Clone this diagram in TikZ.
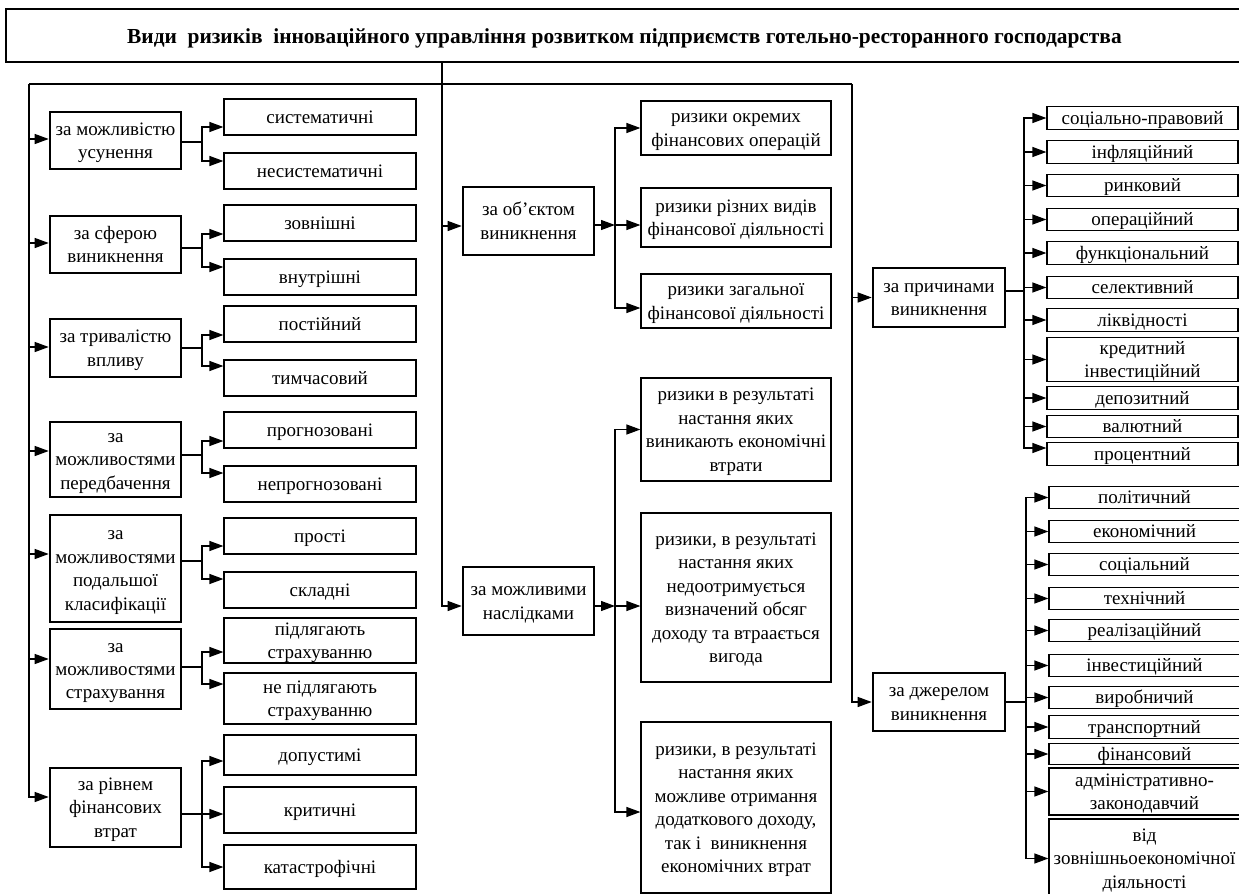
\documentclass[tikz,border=0pt]{standalone}
\usepackage{fontspec}
\setmainfont{Liberation Serif}
\usetikzlibrary{arrows.meta}
% strut with the ascent and descent of the font
\newcommand{\wstrut}{\rule[-0.216em]{0pt}{1.107em}}
\tikzset{
  cat/.style={draw, line width=1.3pt, align=center, inner sep=0pt, font=\fontsize{9.5}{11.7}\selectfont,
    execute at begin node=\wstrut, execute at end node=\wstrut},
  item/.style={draw, line width=0.6pt, align=center, inner sep=0pt, font=\fontsize{9.5}{11.7}\selectfont,
    execute at begin node=\wstrut, execute at end node=\wstrut},
  pbox/.style={cat, minimum width=65.5pt},
  lbox/.style={item, minimum width=96pt, minimum height=18pt},
  mbox/.style={item, minimum width=95pt},
  rbox/.style={item, minimum width=95.5pt, minimum height=11.25pt},
  ln/.style={line width=0.6pt},
  arr/.style={line width=0.6pt, -{Triangle[length=7pt,width=5pt]}},
}
\begin{document}
\begin{tikzpicture}[x=0.5pt, y=-0.5pt]
\useasboundingbox (0,0) rectangle (1239,894);

% title
\node[draw, line width=1.4pt, minimum width=627pt, minimum height=26.5pt, inner sep=0pt] (title) at (633,35.5) {};
\node[font=\bfseries\fontsize{10.7}{12.8}\selectfont] (ttl) at (624.5,36)
  {\wstrut Види~ ризиків~ інноваційного управління розвитком підприємств готельно-ресторанного господарства};

\coordinate (hub) at (442,84);
\coordinate (lt) at (29,84);
\coordinate (rt) at (852,84);
\coordinate (lj) at (202,0);
\coordinate (mj) at (615,0);
\coordinate (rj1) at (1024,0);
\coordinate (rj2) at (1026,0);

% left column
\node[pbox, minimum height=28.5pt] (p1) at (115.5,140.5) {\wstrut за можливістю\\усунення};
\node[pbox, minimum height=28.5pt] (p2) at (115.5,244.5) {\wstrut за сферою\\виникнення};
\node[pbox, minimum height=29pt] (p3) at (115.5,348) {\wstrut за тривалістю\\впливу};
\node[pbox, minimum height=37.5pt] (p4) at (115.5,459.5) {\wstrut за\\можливостями\\передбачення};
\node[pbox, minimum height=53.5pt] (p5) at (115.5,568.5) {\wstrut за\\можливостями\\подальшої\\класифікації};
\node[pbox, minimum height=40pt] (p6) at (115.5,669) {\wstrut за\\можливостями\\страхування};
\node[pbox, minimum height=39.5pt] (p7) at (115.5,807.5) {\wstrut за рівнем\\фінансових\\втрат};

\foreach \n/\y/\t in {c1/117/систематичні, c2/171/несистематичні, c3/223/зовнішні,
    c4/277/внутрішні, c5/324/постійний, c6/378/тимчасовий, c7/430/прогнозовані,
    c8/484/непрогнозовані, c9/536/прості, c10/590/складні}
  \node[lbox] (\n) at (320,\y) {\t};
\node[lbox, minimum height=22.5pt] (c11) at (320,640.5) {\wstrut підлягають\\страхуванню};
\node[lbox, minimum height=25.5pt] (c12) at (320,698.5) {\wstrut не підлягають\\страхуванню};
\node[lbox, minimum height=20pt] (c13) at (320,755) {допустимі};
\node[lbox, minimum height=23pt] (c14) at (320,810) {критичні};
\node[lbox, minimum height=22pt] (c15) at (320,867) {катастрофічні};

% middle column
\node[pbox, minimum height=34pt] (q1) at (528.5,221) {\wstrut за об’єктом\\виникнення};
\node[pbox, minimum height=34pt] (q2) at (528.5,601) {\wstrut за можливими\\наслідками};

\node[mbox, minimum height=27pt] (m1) at (736,128) {\wstrut ризики окремих\\фінансових операцій};
\node[mbox, minimum height=29.5pt] (m2) at (736,217.5) {\wstrut ризики різних видів\\фінансової діяльності};
\node[mbox, minimum height=27pt] (m3) at (736,301) {\wstrut ризики загальної\\фінансової діяльності};
\node[mbox, minimum height=51.5pt] (m4) at (736,429.5) {\wstrut ризики в результаті\\настання яких\\виникають економічні\\втрати};
\node[mbox, minimum height=84.5pt] (m5) at (736,597.5) {\wstrut ризики, в результаті\\настання яких\\недоотримується\\визначений обсяг\\доходу та втраається\\вигода};
\node[mbox, minimum height=85.5pt] (m6) at (736,807.5) {\wstrut ризики, в результаті\\настання яких\\можливе отримання\\додаткового доходу,\\так і~ виникнення\\економічних втрат};

% right column
\node[pbox, minimum width=66pt, minimum height=29.5pt] (r1) at (939,297.5) {\wstrut за причинами\\виникнення};
\node[pbox, minimum width=66pt, minimum height=29pt] (r2) at (939,702) {\wstrut за джерелом\\виникнення};

\foreach \n/\y/\t in {s1/118/соціально-правовий, s2/152/інфляційний, s3/185.5/ринковий,
    s4/219.5/операційний, s5/253/функціональний, s6/287.5/селективний, s7/320/ліквідності,
    s9/398/депозитний, s10/426.5/валютний, s11/454/процентний}
  \node[rbox] (\n) at (1142.5,\y) {\t};
\node[rbox, minimum height=21.5pt] (s8) at (1142.5,359.5) {\wstrut кредитний\\інвестиційний};

\foreach \n/\y/\t in {t1/497.5/політичний, t2/531.5/економічний, t3/564.5/соціальний,
    t4/598.5/технічний, t5/630.5/реалізаційний, t6/665.5/інвестиційний, t7/697.5/виробничий,
    t8/727/транспортний}
  \node[rbox] (\n) at (1144.5,\y) {\t};
\node[rbox, minimum height=10pt] (t9) at (1144.5,754) {фінансовий};
\node[rbox, minimum height=23.5pt] (t10) at (1144.5,791.5) {\wstrut адміністративно-\\законодавчий};
\node[rbox, minimum height=39.5pt] (t11) at (1144.5,858.5) {\wstrut від\\зовнішньоекономічної\\діяльності};

% trunk
\draw[ln] (title.south -| hub) -- (hub);
\draw[ln] (lt) -- (rt);
\foreach \n/\s in {p1/0.75,p2/0.75,p3/0.5,p4/4.25,p5/7.25,p6/5}{
  \path ([yshift=\s pt]\n.west) coordinate (t);
  \draw[arr] (t -| lt) -- (t);
}
\draw[arr] (lt) |- ([yshift=5.25pt]p7.west);

% left branches
\foreach \p/\a/\c/\cs/\d/\ds in {p1/-0.75/c1/-5/c2/5, p2/-1.75/c3/-5.5/c4/5,
    p3/0/c5/-5.5/c6/6, p4/2.25/c7/-5.5/c8/5.5, p5/3.75/c9/-5/c10/5.5, p6/1/c11/-5.75/c12/7.25}{
  \path ([yshift=\a pt]\p.east) coordinate (b);
  \draw[arr] (b) -- (b -| lj) |- ([yshift=\cs pt]\c.west);
  \draw[arr] (b -| lj) |- ([yshift=\ds pt]\d.west);
}
\path ([yshift=-3.25pt]p7.east) coordinate (b);
\draw[arr] (b) -- (c14.west |- b);
\draw[arr] (b -| lj) |- ([yshift=-3pt]c13.west);
\draw[arr] (b -| lj) |- (c15.west);

% middle branches
\path ([yshift=-2.5pt]q1.west) coordinate (t);
\draw[arr] (t -| hub) -- (t);
\draw[arr] (hub) |- ([yshift=-2.5pt]q2.west);

\path ([yshift=-2pt]q1.east) coordinate (b);
\draw[arr] (b) -- (b -| mj);
\draw[arr] (b -| mj) |- (m1.west);
\draw[arr] (b -| mj) -- (m2.west |- b);
\draw[arr] (b -| mj) |- ([yshift=-3.5pt]m3.west);

\path ([yshift=-2.5pt]q2.east) coordinate (b);
\draw[arr] (b) -- (b -| mj);
\draw[arr] (b -| mj) |- (m4.west);
\draw[arr] (b -| mj) -- (m5.west |- b);
\draw[arr] (b -| mj) |- ([yshift=-2.25pt]m6.west);

% right branches
\draw[arr] (rt) |- (r2.west);
\draw[arr] (r1.west -| rt) -- (r1.west);

\path ([yshift=3.25pt]r1.east) coordinate (b);
\draw[ln] (b) -- (b -| rj1);
\foreach \i in {1,...,10}
  \draw[arr] (b -| rj1) |- (s\i.west);
\draw[arr] (b -| rj1) |- ([yshift=3pt]s11.west);

\path (r2.east) coordinate (b);
\draw[ln] (b) -- (b -| rj2);
\foreach \i in {1,...,11}
  \draw[arr] (b -| rj2) |- (t\i.west);
\end{tikzpicture}
\end{document}
